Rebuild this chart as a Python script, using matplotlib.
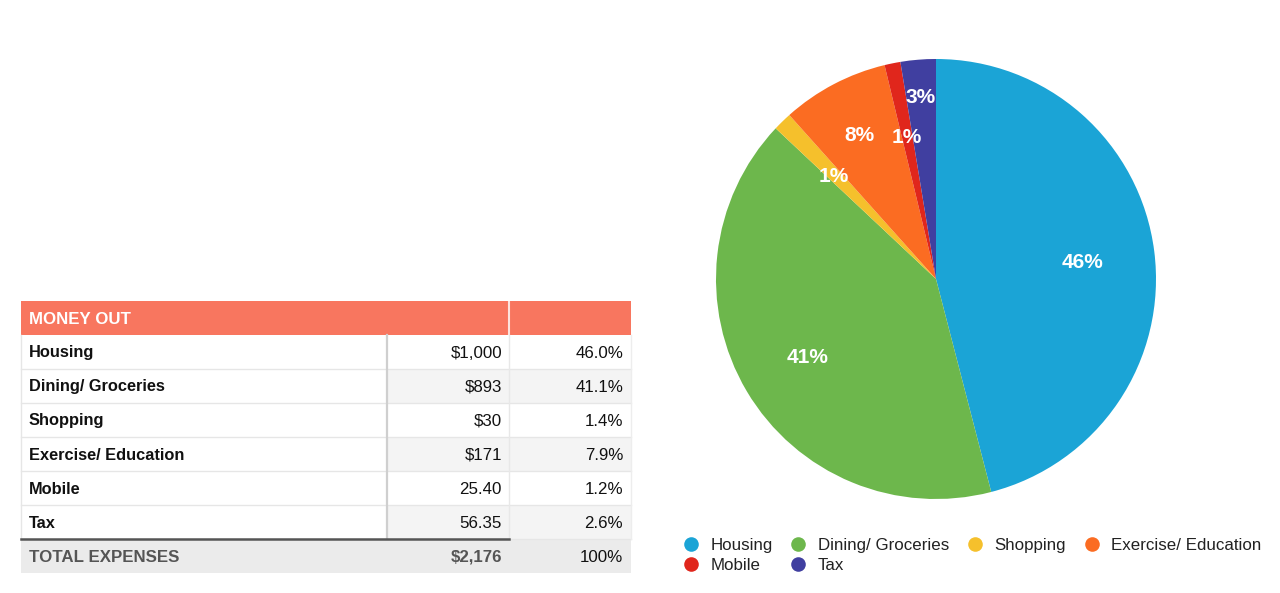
import matplotlib
matplotlib.use("Agg")
import matplotlib.pyplot as plt
from matplotlib.patches import Rectangle
from matplotlib.lines import Line2D
import numpy as np

plt.rcParams['font.family'] = ['Liberation Sans', 'DejaVu Sans']

# ---------------- data ----------------
categories = ["Housing", "Dining/ Groceries", "Shopping", "Exercise/ Education", "Mobile", "Tax"]
amounts = [1000, 893, 30, 171, 25.40, 56.35]
amount_labels = ["$1,000", "$893", "$30", "$171", "25.40", "56.35"]
pct_labels = ["46.0%", "41.1%", "1.4%", "7.9%", "1.2%", "2.6%"]
header_title = "MONEY OUT"
total_label = "TOTAL EXPENSES"
total_amount = "$2,176"
total_pct = "100%"

# ---------------- style ----------------
colors = ["#1BA4D6", "#6DB74C", "#F5C02C", "#FB6C22", "#E0261C", "#403FA0"]
label_dist = [0.67, 0.677, 0.665, 0.75, 0.67, 0.84]
W, H = 1280, 593

fig = plt.figure(figsize=(W / 100, H / 100), dpi=100)

# ---------------- table (pixel-coordinate axes) ----------------
tax = fig.add_axes([0, 0, 1, 1])
tax.set_xlim(0, W)
tax.set_ylim(H, 0)
tax.axis('off')

x0, x1, x2, x3 = 21, 387, 509, 631
top = 301
rh = 34
header_col = "#F8765F"

# header
tax.add_patch(Rectangle((x0, top), x3 - x0, rh, facecolor=header_col, edgecolor='none'))
tax.plot([x2, x2], [top, top + rh], color='white', lw=1.5, alpha=0.8)
tax.text(x0 + 8, top + rh / 2 + 1, header_title, color='white', fontsize=12.2,
         fontweight='bold', va='center', ha='left')

n = len(categories)
for i in range(n):
    y = top + rh * (i + 1)
    if i % 2 == 1:
        tax.add_patch(Rectangle((x1, y), x3 - x1, rh, facecolor="#F4F4F4", edgecolor='none'))
    tax.plot([x0, x3], [y + rh, y + rh], color="#E6E6E6", lw=1)
    tax.text(x0 + 8, y + rh / 2 + 1, categories[i], fontsize=11.8, fontweight='bold',
             color='#111111', va='center', ha='left')
    tax.text(x2 - 7, y + rh / 2 + 1, amount_labels[i], fontsize=12.2, color='#111111',
             va='center', ha='right')
    tax.text(x3 - 8, y + rh / 2 + 1, pct_labels[i], fontsize=12.2, color='#111111',
             va='center', ha='right')

body_top = top + rh
body_bot = top + rh * (n + 1)
tax.plot([x1, x1], [body_top, body_bot], color="#CFCFCF", lw=1.6)
tax.plot([x2, x2], [body_top, body_bot], color="#E8E8E8", lw=1)
tax.plot([x0, x0], [body_top, body_bot], color="#E6E6E6", lw=1)
tax.plot([x3, x3], [body_top, body_bot], color="#EDEDED", lw=1)

# total row
tax.add_patch(Rectangle((x0, body_bot), x3 - x0, rh, facecolor="#EBEBEB", edgecolor='none'))
tax.plot([x0, x2], [body_bot, body_bot], color="#555555", lw=1.8)
tax.text(x0 + 8, body_bot + rh / 2 + 1, total_label, fontsize=12.2, fontweight='bold',
         color='#555555', va='center', ha='left')
tax.text(x2 - 7, body_bot + rh / 2 + 1, total_amount, fontsize=12.2, fontweight='bold',
         color='#555555', va='center', ha='right')
tax.text(x3 - 8, body_bot + rh / 2 + 1, total_pct, fontsize=12.2, color='#111111',
         va='center', ha='right')

# ---------------- pie ----------------
cx, cy, r = 936, 279, 220
pax = fig.add_axes([(cx - r) / W, (H - cy - r) / H, 2 * r / W, 2 * r / H])
wedges, texts, autotexts = pax.pie(amounts, colors=colors, startangle=90, counterclock=False,
                                   autopct='%1.0f%%', pctdistance=0.67,
                                   wedgeprops=dict(linewidth=0),
                                   textprops=dict(color='white', fontsize=15, fontweight='bold'))
for w, t, d in zip(wedges, autotexts, label_dist):
    ang = np.deg2rad((w.theta1 + w.theta2) / 2)
    t.set_position((d * np.cos(ang), d * np.sin(ang) - 0.012))
    t.set_ha('center'); t.set_va('center')
pax.set_xlim(-1, 1)
pax.set_ylim(-1, 1)
pax.set_aspect('equal')
pax.axis('off')

# ---------------- legend ----------------
handles = [Line2D([], [], marker='o', linestyle='none', markersize=10.5,
                  markerfacecolor=c, markeredgecolor='none') for c in colors]
order = [0, 4, 1, 5, 2, 3]
leg = fig.legend([handles[k] for k in order], [categories[k] for k in order],
                 ncol=4, loc='center left', bbox_to_anchor=(684 / W, 1 - 555.5 / H),
                 frameon=False, fontsize=12.2, handlelength=0.8, handletextpad=0.75,
                 columnspacing=1.12, labelspacing=0.33, borderpad=0, borderaxespad=0,
                 labelcolor='#222222')

fig.savefig("out.png", dpi=100)
